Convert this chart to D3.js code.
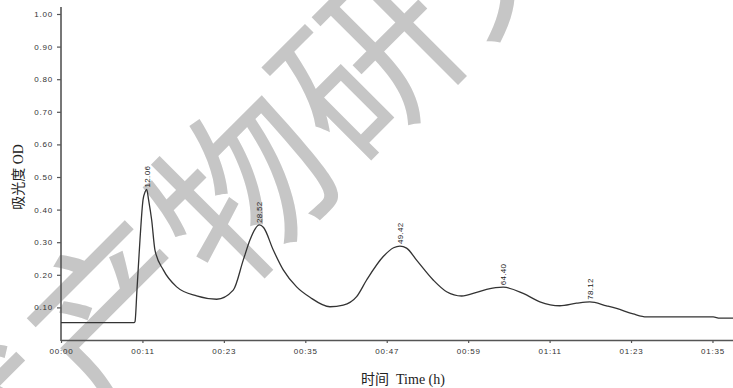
<!DOCTYPE html>
<html>
<head>
<meta charset="utf-8">
<script src="https://cdn.jsdelivr.net/npm/d3@7/dist/d3.min.js"></script>
<style>
  body { margin: 0; background: #fff; }
  svg { display: block; }
</style>
</head>
<body>
<div id="chart"></div>
<script>
  // chromatogram trace, time in minutes (as on the axis) and absorbance
  var timeMin = [0, 10.66, 10.81, 11.10, 11.54, 11.98, 12.30, 12.52, 12.80, 13.25, 13.73, 14.95, 16.90, 19.82, 22.75,
    25.17, 26.63, 27.61, 28.40, 28.97, 29.60, 31.02, 32.48, 34.43, 36.38, 39.30, 41.24, 43.20, 44.66, 47.09, 48.60,
    49.53, 50.50, 51.96, 54.39, 56.35, 58.54, 60.73, 62.19, 64.62, 67.54, 69.98, 72.90, 75.34, 77.28, 79.72, 81.18,
    83.61, 85.57, 95.30, 96.27, 98.20];
  var odValues = [0.053, 0.053, 0.056, 0.153, 0.307, 0.429, 0.455, 0.462, 0.430, 0.368, 0.276, 0.215, 0.163, 0.135, 0.125,
    0.153, 0.245, 0.307, 0.342, 0.353, 0.345, 0.276, 0.215, 0.163, 0.131, 0.102, 0.107, 0.133, 0.184, 0.256, 0.283,
    0.288, 0.282, 0.245, 0.184, 0.148, 0.135, 0.146, 0.155, 0.162, 0.143, 0.117, 0.105, 0.113, 0.117, 0.105, 0.097,
    0.080, 0.071, 0.071, 0.067, 0.067];

  // annotated peaks
  var peakTimes = [12.52, 28.97, 49.53, 64.62, 77.28];
  var peakOD = [0.462, 0.353, 0.288, 0.162, 0.117];
  var peakLabels = ['12.06', '28.52', '49.42', '64.40', '78.12'];

  var yTicks = [0.1, 0.2, 0.3, 0.4, 0.5, 0.6, 0.7, 0.8, 0.9, 1.0];
  var xTicks = [0, 11.9, 23.8, 35.7, 47.6, 59.5, 71.4, 83.3, 95.2];

  var watermark = ['天', '然', '产', '物', '研', '究'];

  var W = 733, H = 388;
  var svg = d3.select('#chart').append('svg')
    .attr('width', W)
    .attr('height', H);

  var x = d3.scaleLinear().domain([0, 98.2]).range([61, 733]);
  var y = d3.scaleLinear().domain([0, 1]).range([340, 14]);

  // watermark behind the chart (runs off the picture, as in the original)
  var wm = svg.append('g');
  watermark.forEach(function(ch, i) {
    var cx = 110 + (i - 2) * 125;
    var cy = 305 - (i - 2) * 125;
    wm.append('text')
      .attr('transform', 'translate(' + cx + ',' + cy + ') rotate(-45)')
      .attr('text-anchor', 'middle')
      .attr('dominant-baseline', 'central')
      .attr('font-family', '"Noto Sans CJK SC", sans-serif')
      .attr('font-size', 175)
      .attr('fill', '#c6c6c6')
      .text(ch);
  });

  // y axis
  var yAxis = svg.append('g')
    .attr('transform', 'translate(61,0)')
    .call(d3.axisLeft(y).tickValues(yTicks).tickFormat(d3.format('.2f')).tickSize(4).tickSizeOuter(0).tickPadding(4));

  yAxis.select('.domain').remove();
  yAxis.append('line')
    .attr('x1', 0).attr('x2', 0)
    .attr('y1', 7).attr('y2', 341)
    .attr('stroke', '#555')
    .attr('stroke-width', 1.6);

  // x axis
  var xAxis = svg.append('g')
    .attr('transform', 'translate(0,340)')
    .call(d3.axisBottom(x).tickValues(xTicks)
      .tickFormat(function(d) {
        var m = Math.floor(d + 1e-6);
        return d3.format('02d')(Math.floor(m / 60)) + ':' + d3.format('02d')(m % 60);
      })
      .tickSize(3).tickSizeOuter(0).tickPadding(5));

  xAxis.select('.domain')
    .attr('stroke', '#555')
    .attr('stroke-width', 1.6);

  svg.selectAll('.tick line').attr('stroke', '#555').attr('stroke-width', 1.2);
  svg.selectAll('.tick text')
    .attr('fill', '#333')
    .attr('font-family', '"Liberation Sans", Arial, sans-serif')
    .attr('font-size', 8)
    .attr('letter-spacing', 0.8);

  // trace
  var line = d3.line()
    .x(function(d, i) { return x(timeMin[i]); })
    .y(function(d) { return y(d); })
    .curve(d3.curveMonotoneX);

  svg.append('path')
    .datum(odValues)
    .attr('fill', 'none')
    .attr('stroke', '#333')
    .attr('stroke-width', 1.3)
    .attr('stroke-linejoin', 'round')
    .attr('d', line);

  // peak labels
  svg.selectAll('.peak')
    .data(peakLabels)
    .enter().append('text')
    .attr('class', 'peak')
    .attr('transform', function(d, i) {
      return 'translate(' + (x(peakTimes[i]) + 3) + ',' + (y(peakOD[i]) - 2) + ') rotate(-90)';
    })
    .attr('font-family', '"Liberation Sans", Arial, sans-serif')
    .attr('font-size', 8)
    .attr('letter-spacing', 0.3)
    .attr('fill', '#222')
    .text(function(d) { return d; });

  // axis titles
  svg.append('text')
    .attr('transform', 'translate(23,177) rotate(-90)')
    .attr('text-anchor', 'middle')
    .attr('font-family', '"Liberation Serif", "Noto Sans CJK SC", serif')
    .attr('font-size', 14)
    .attr('fill', '#222')
    .text('吸光度 OD');

  svg.append('text')
    .attr('x', 403)
    .attr('y', 384)
    .attr('text-anchor', 'middle')
    .attr('font-family', '"Liberation Serif", "Noto Sans CJK SC", serif')
    .attr('font-size', 14)
    .attr('fill', '#222')
    .attr('xml:space', 'preserve')
    .text('时间  Time (h)');
</script>
</body>
</html>
